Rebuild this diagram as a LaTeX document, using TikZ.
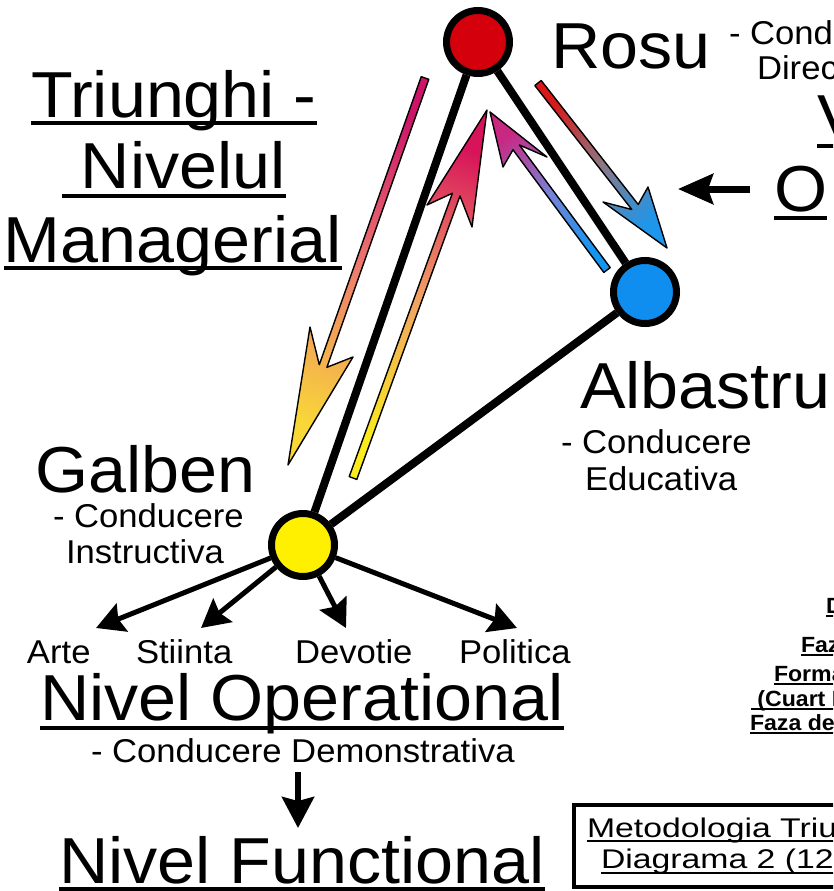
\documentclass[tikz,border=0pt]{standalone}
\usepackage{fontspec}
\setmainfont[FakeStretch=1.05]{Liberation Sans}
\newfontfamily\boxfont[FakeStretch=1.25]{Liberation Sans}
\usetikzlibrary{arrows.meta,calc}
\definecolor{redc}{RGB}{212,0,12}
\definecolor{bluec}{RGB}{16,142,240}
\definecolor{yelc}{RGB}{255,240,0}
\definecolor{aA}{RGB}{205,20,105}\definecolor{aAm}{RGB}{238,125,110}\definecolor{aAt}{RGB}{248,215,55}
\definecolor{aB}{RGB}{250,235,30}\definecolor{aBm}{RGB}{240,160,100}\definecolor{aBt}{RGB}{215,20,90}
\definecolor{aC}{RGB}{20,150,240}\definecolor{aCm}{RGB}{120,130,215}\definecolor{aCt}{RGB}{200,40,130}
\definecolor{aD}{RGB}{215,25,25}\definecolor{aDm}{RGB}{140,120,130}\definecolor{aDt}{RGB}{30,150,235}
\newcommand\ulin[2]{\draw[ul] ([yshift=-#2]#1.base west) -- ([yshift=-#2]#1.base east);}
\tikzset{
  txt/.style={inner sep=0pt, outer sep=0pt, anchor=base west},
  big/.style={txt, font=\fontsize{65}{70}\selectfont},
  mid/.style={txt, font=\fontsize{33}{38}\selectfont},
  bsm/.style={txt, font=\fontsize{22}{26}\selectfont\bfseries},
  boxt/.style={txt, font=\boxfont\fontsize{27}{30}\selectfont},
  ul/.style={line width=3.5pt},
  tri/.style={line width=8pt},
  dot/.style={circle, draw=black, line width=7pt, minimum size=63pt, inner sep=0pt},
  opar/.style={line width=5pt, -{Stealth[length=28pt,width=30pt,inset=4pt]}},
  garrow/.style={draw=black, line width=1.4pt, line join=round},
}
\begin{document}
\begin{tikzpicture}[x=1pt,y=-1pt]
\path[use as bounding box] (0,0) rectangle (833,891);
\fill[white] (0,0) rectangle (833,891);
\clip (0,0) rectangle (833,891);

% circles
\node[dot, fill=redc] (red) at (478,42) {};
\node[dot, fill=bluec] (blue) at (645,292) {};
\node[dot, fill=yelc] (yel) at (303,545) {};

% triangle
\draw[tri] (red) -- (yel);
\draw[tri] (red) -- (blue);
\draw[tri] (yel) -- (blue);

% gradient arrows
\shadedraw[garrow, bottom color=aA, top color=aAt, middle color=aAm, shading angle=160.5]
  (421.2,76.7) -- (319.3,364.7) -- (310,327) -- (288,465) -- (353,357) -- (326.9,367.3) -- (428.8,79.3) -- cycle;
\shadedraw[garrow, bottom color=aB, top color=aBt, middle color=aBm, shading angle=-20]
  (349.2,476.6) -- (452.4,193.2) -- (427,205) -- (487,110) -- (472,227) -- (460,196) -- (356.8,479.4) -- cycle;
\shadedraw[garrow, bottom color=aC, top color=aCt, middle color=aCm, shading angle=36.5]
  (603.8,272.4) -- (513,149.8) -- (503,167) -- (490,112) -- (547,157) -- (519.4,145) -- (610.2,267.6) -- cycle;
\shadedraw[garrow, bottom color=aD, top color=aDt, middle color=aDm, shading angle=-142]
  (534.8,85.5) -- (631.8,209.5) -- (603,202) -- (667,248) -- (648,187) -- (638.2,204.5) -- (541.2,80.5) -- cycle;

% title
\node[big] (tri1) at (31,117) {Triunghi -};
\node[big] (tri2) at (62,188) {\ Nivelul};
\node[big] (tri3) at (4,262) {Managerial};
\ulin{tri1}{6pt}\ulin{tri2}{8pt}\ulin{tri3}{6pt}

% Rosu
\node[big] (rosu) at (551,68) {Rosu};
\node[mid] (rc1) at (729,45) {- Conducere};
\node[mid] (rc2) at (757,79) {Directiva};
\node[big] (vv) at (817,140) {V};
\ulin{vv}{6pt}
\node[big] (oo) at (774,211) {O};
\ulin{oo}{7pt}
\coordinate (oT) at (750,189);
\coordinate (oH) at (678,189);
\draw[line width=7pt, -{Stealth[length=35pt,width=30pt,inset=5pt]}] (oT) -- (oH);

% Albastru
\node[big] (alb) at (580,408) {Albastru};
\node[mid] (ac1) at (561,453) {- Conducere};
\node[mid] (ac2) at (585,490) {Educativa};

% Galben
\node[big] (gal) at (35,492) {Galben};
\node[mid] (gc1) at (53,527) {- Conducere};
\node[mid] (gc2) at (66,563) {Instructiva};

% operational arrows
\coordinate (tA) at (96,628);
\coordinate (tS) at (201,628);
\coordinate (tD) at (346,628);
\coordinate (tP) at (517,628);
\draw[opar] (yel) -- (tA);
\draw[opar] (yel) -- (tS);
\draw[opar] (yel) -- (tD);
\draw[opar] (yel) -- (tP);
\node[mid] (arte) at (27,663) {Arte};
\node[mid] (sti) at (136,663) {Stiinta};
\node[mid] (dev) at (295,663) {Devotie};
\node[mid] (pol) at (459,663) {Politica};

\node[big] (nop) at (40,720) {Nivel Operational};
\ulin{nop}{8pt}
\node[mid] (demo) at (91,762) {- Conducere Demonstrativa};
\coordinate (dA) at (298,772);
\coordinate (dB) at (298,828);
\draw[line width=6pt, -{Stealth[length=31pt,width=32pt,inset=4pt]}] (dA) -- (dB);
\node[big] (nfu) at (59,883) {Nivel Functional};
\ulin{nfu}{6pt}

% right-edge bold text
\node[bsm] (b1) at (826,613) {D};
\node[bsm] (b2) at (801,652) {Faz};
\node[bsm] (b3) at (774,681) {Forma};
\node[bsm] (b4) at (751,706) {\ (Cuart I};
\node[bsm] (b5) at (750,730) {Faza de};
\draw[line width=2pt] ([yshift=-3pt]b1.base west) -- ([yshift=-3pt]b1.base east);
\draw[line width=2pt] ([yshift=-3pt]b2.base west) -- ([yshift=-3pt]b2.base east);
\draw[line width=2pt] ([yshift=-3pt]b3.base west) -- ([yshift=-3pt]b3.base east);
\draw[line width=2pt] ([yshift=-3pt]b4.base west) -- ([yshift=-3pt]b4.base east);
\draw[line width=2pt] ([yshift=-3pt]b5.base west) -- ([yshift=-3pt]b5.base east);

% bottom-right box
\draw[line width=4pt] (574,805) rectangle (1000,887);
\node[boxt] (m1) at (587,837) {Metodologia Triu};
\node[boxt] (m2) at (601,868) {Diagrama 2 (12};
\draw[line width=2pt] ([yshift=-4pt]m1.base west) -- ([yshift=-4pt]m1.base east);
\draw[line width=2pt] ([yshift=-5pt]m2.base west) -- ([yshift=-5pt]m2.base east);
\end{tikzpicture}
\end{document}
